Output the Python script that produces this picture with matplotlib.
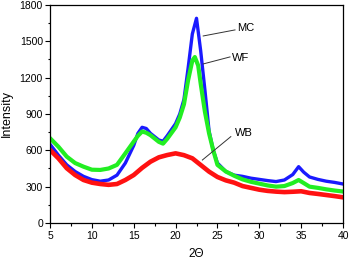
import matplotlib
matplotlib.use("Agg")
import matplotlib.pyplot as plt
from matplotlib.ticker import MultipleLocator

plt.rcParams['font.family'] = ['Liberation Sans', 'DejaVu Sans']

# Data (2-theta vs intensity)
mc_x = [5, 6, 7, 8, 9, 10, 11, 12, 13, 14, 15, 15.5, 16, 16.5, 17, 18, 18.5, 19, 20, 20.5,
        21, 21.5, 22, 22.5, 23, 23.5, 24, 24.5, 25, 26, 27, 28, 29, 30, 31, 32, 33, 34,
        34.7, 35.3, 36, 37, 38, 39, 40]
mc_y = [650, 560, 480, 425, 385, 358, 345, 355, 395, 495, 640, 740, 790, 780, 740, 685, 675,
        720, 820, 900, 1020, 1280, 1560, 1690, 1420, 1100, 760, 600, 495, 425, 395, 385, 370,
        360, 350, 342, 355, 400, 465, 420, 380, 360, 345, 335, 322]

wf_x = [5, 6, 7, 8, 9, 10, 11, 12, 13, 14, 15, 15.5, 16, 16.5, 17, 18, 18.5, 19, 20, 20.5,
        21, 21.5, 22, 22.3, 22.7, 23, 23.5, 24, 24.5, 25, 26, 27, 28, 29, 30, 31, 32, 33, 34,
        34.7, 35.3, 36, 37, 38, 39, 40]
wf_y = [700, 630, 548, 495, 465, 440, 438, 450, 480, 575, 672, 720, 755, 745, 725, 670, 655,
        695, 790, 870, 980, 1180, 1340, 1370, 1300, 1150, 920, 740, 600, 480, 425, 390, 360,
        340, 325, 310, 300, 305, 330, 355, 330, 300, 290, 278, 268, 260]

wb_x = [5, 6, 7, 8, 9, 10, 11, 12, 13, 14, 15, 16, 17, 18, 19, 20, 21, 22, 23, 24, 25, 26,
        27, 28, 29, 30, 31, 32, 33, 34, 35, 36, 37, 38, 39, 40]
wb_y = [603, 534, 452, 396, 355, 333, 322, 315, 322, 355, 396, 455, 506, 542, 561, 575, 560,
        534, 479, 424, 380, 352, 333, 305, 290, 275, 265, 259, 255, 258, 262, 248, 240, 231,
        222, 212]

x_ticks = [5, 10, 15, 20, 25, 30, 35, 40]
y_ticks = [0, 300, 600, 900, 1200, 1500, 1800]

fig = plt.figure(figsize=(3.5, 2.61), dpi=100)
ax = fig.add_axes([0.1429, 0.1456, 0.98 - 0.1429, 0.981 - 0.1456])

ax.plot(mc_x, mc_y, color='#1a1aff', lw=2.4, solid_joinstyle='round')
ax.plot(wf_x, wf_y, color='#22ee22', lw=3.0, solid_joinstyle='round')
ax.plot(wb_x, wb_y, color='#ff1111', lw=3.3, solid_joinstyle='round')

ax.set_xlim(5, 40)
ax.set_ylim(0, 1800)
ax.set_xticks(x_ticks)
ax.set_yticks(y_ticks)
ax.xaxis.set_minor_locator(MultipleLocator(2.5))
ax.yaxis.set_minor_locator(MultipleLocator(150))
ax.tick_params(which='major', direction='out', length=3.6, width=0.8, labelsize=7.5, pad=1.5)
ax.tick_params(which='minor', direction='out', length=1.8, width=0.8)
ax.tick_params(axis='x', which='major', pad=2.5)
for s in ax.spines.values():
    s.set_linewidth(0.9)

ax.set_xlabel('2\u0398', fontsize=8.5, labelpad=4.5)
ax.set_ylabel('Intensity', fontsize=9, labelpad=5)

# annotations
ax.plot([23.3, 27.1], [1544, 1594], color='#333333', lw=0.7)
ax.text(27.3, 1610, 'MC', fontsize=8, va='center', ha='left')
ax.plot([23.3, 26.5], [1313, 1371], color='#333333', lw=0.7)
ax.text(26.7, 1362, 'WF', fontsize=8, va='center', ha='left')
ax.plot([23.2, 26.6], [520, 713], color='#333333', lw=0.7)
ax.text(27.1, 743, 'WB', fontsize=8, va='center', ha='left')

fig.savefig('out.png', dpi=100)
